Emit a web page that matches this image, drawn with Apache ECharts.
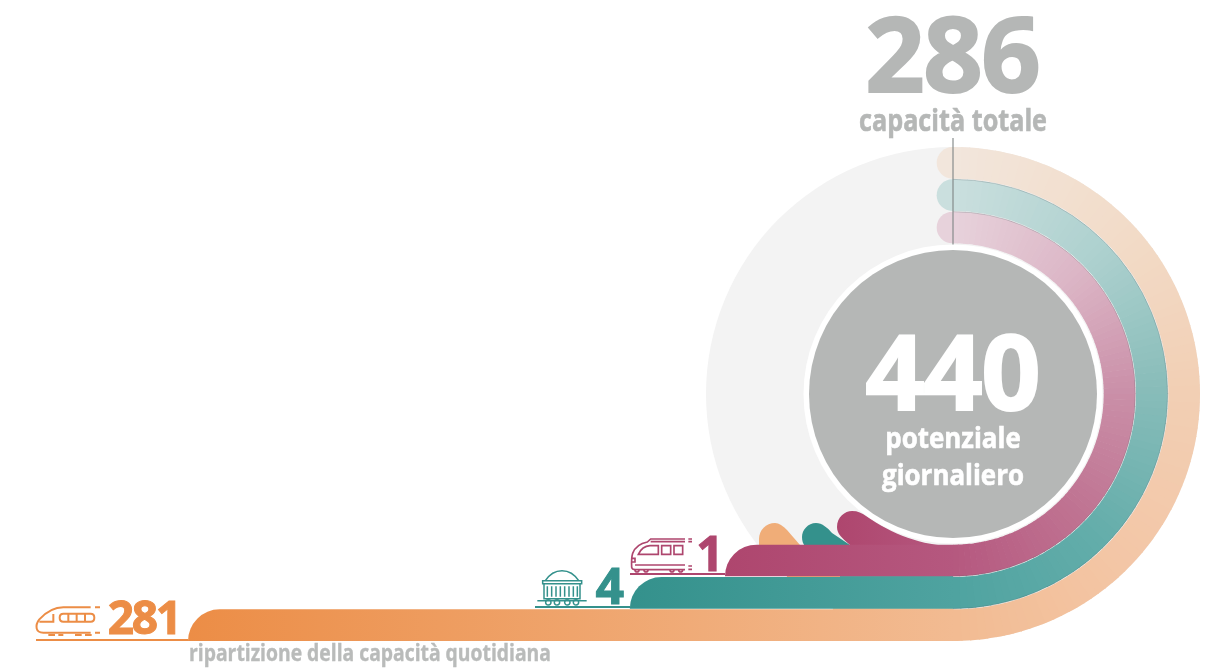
<!DOCTYPE html>
<html>
<head>
<meta charset="utf-8">
<style>html,body{margin:0;padding:0;background:#fff}#chart{width:1210px;height:668px}</style>
<script src="https://cdn.jsdelivr.net/npm/echarts@6/dist/echarts.min.js"></script>
</head>
<body>
<div id="chart"></div>
<script>
// Daily capacity split per service type
const services = ['Alta velocità', 'Merci', 'Regionale'];
const capacity = [281, 4, 1];
const totalCapacity = [286];
const dailyPotential = [440];
const captionTotal = 'capacità totale';
const captionPotential = ['potenziale', 'giornaliero'];
const captionSplit = 'ripartizione della capacità quotidiana';

// Colour ramps: [bar start, bar end / arc start, ... arc end at the top]
const rampOrange = ['#ec8d46', '#f2bb92', '#f3c6a6', '#f2cfb4', '#f2dcc9', '#f2e6dc'];
const rampTeal = ['#34918c', '#4fa3a0', '#63adaa', '#87bcb9', '#aed1cf', '#cadfde'];
const rampMagenta = ['#ae466e', '#b5587f', '#bf7291', '#ca8fa8', '#dcb6c6', '#e7d2db'];
const ramps = [rampOrange, rampTeal, rampMagenta];
const GREY = '#b5b7b6';
const FONT = '"Open Sans", "Noto Sans", sans-serif';

// The horizontal axis is logarithmic, so the tiny services stay readable next to 281
const LOG_SHIFT = 1.2;
const AXIS_MIN = 0.28;
const AXIS_MAX = 282.2;

const CY = 394;          // ring centre height
const RING_R = 149.5;    // white ring round the potential disc
const CORE_R = 144;      // potential disc

// Tails that peel off the bars around the lower left of the disc (relative to the ring's foot)
const tails = [
  'M-152 1 L-165 -14 C-169 -18 -173 -21 -177 -21 C-186 -21 -193 -14 -193 -5 L-193 1 Z',
  'M-102 1 L-120 -11 C-124 -16 -130 -21 -136 -21 C-144 -21 -150 -14 -150 -7 C-150 -3 -149 0 -147 2 Z',
  'M-102 1 C-110 -6 -115 -10 -115 -17 C-115 -27 -107 -33 -100 -33 C-94 -33 -90 -31 -86 -28 C-60 -10 -30 2 2 2 Z'
];

// Line icons drawn at three times their final size
const icons = [
  { ox: 0, oy: 500, color: '#ec8d46', w: 6, d: [
    'M272 322H190C160 322 135 340 118 358C110 368 108 375 110 385C112 394 122 398 130 398H272',
    'M285 322H300M285 398H300',
    'M118 365H160V342',
    'M190 341H272C280 341 283 346 283 353C283 360 280 365 272 365H190C183 365 179 360 179 353C179 346 183 341 190 341Z',
    'M205 341V365M230 341V365M255 341V365',
    'M145 405H165M175 405H190M225 405H245M255 405H275'
  ], fills: [[36, 639, 152]] },
  { ox: 520, oy: 490, color: '#34918c', w: 4.5, d: [
    'M76 272C90 250 108 242 126 242C144 242 162 250 176 272',
    'M68 272H185V281H68Z',
    'M72 281V326H180V281',
    'M82 289V320M95 289V320M108 289V320M121 289V320M134 289V320M147 289V320M160 289V320M172 289V320',
    'M52 332H200',
    'M85 329A8 8 0 1 1 84.9 329M111 329A8 8 0 1 1 110.9 329M142 329A8 8 0 1 1 141.9 329M168 329A8 8 0 1 1 167.9 329'
  ], fills: [[535, 606, 95]] },
  { ox: 520, oy: 490, color: '#ae466e', w: 5, d: [
    'M495 147H392L382 156C360 160 345 172 338 190C335 200 334 212 335 232C336 237 340 239 346 239H495',
    'M392 155H495M505 147H516M505 155H516M505 228H516M505 238H516',
    'M345 225H495',
    'M355 193C362 178 375 168 390 167H415V193Z',
    'M425 167H452V193H425ZM462 167H488V193H462Z',
    'M334 205H345V216H334',
    'M345 240A6 6 0 1 0 357 240M372 240A6 6 0 1 0 384 240M450 240A6 6 0 1 0 462 240M476 240A6 6 0 1 0 488 240'
  ], fills: [[630, 573, 95]] }
];

// Where each service's number sits, from the bar's start
const numberSpec = [
  { dx: -43, dy: -20, size: 46, gap: 24, bold: 1 },
  { dx: -20, dy: -19, size: 50, gap: 0, bold: 1 },
  { dx: -15, dy: -19, size: 48, gap: 0, bold: 1 }
];

function lerpRamp(ramp, t) {
  return echarts.color.lerp(t, ramp);
}

function text(str, x, y, size, fill, sx, bold) {
  return {
    type: 'text', x: x, y: y, scaleX: sx || 1,
    style: {
      text: str, fill: fill, fontSize: size, fontFamily: FONT, fontWeight: 700,
      align: 'center', verticalAlign: 'middle',
      stroke: bold ? fill : 'none', lineWidth: bold || 0
    }
  };
}

// Heavy numerals sit closer together than the font's own spacing
function numerals(str, x, y, size, fill, gap, bold) {
  const chars = String(str).split('');
  return chars.map(function (c, k) {
    return text(c, x + (k - (chars.length - 1) / 2) * gap, y, size, fill, 1, bold);
  });
}

function renderDisc(params, api) {
  const foot = api.coord([AXIS_MIN, 0]);
  const rowH = api.coord([AXIS_MIN, 0])[1] - api.coord([AXIS_MIN, 1])[1];
  return { type: 'circle', shape: { cx: foot[0], cy: CY, r: foot[1] + rowH / 2 - CY }, style: { fill: '#f3f3f3' } };
}

function renderService(params, api) {
  const i = params.dataIndex;
  const ramp = ramps[i];
  const base = api.coord([api.value(0), api.value(1)]);
  const centre = api.coord([AXIS_MIN, api.value(1)]);
  const rowH = Math.abs(api.coord([AXIS_MIN, 0])[1] - api.coord([AXIS_MIN, 1])[1]);
  const bottom = base[1] + rowH / 2;
  const top = bottom - rowH + 0.7;
  const cx = centre[0];
  const outer = bottom - CY;
  const inner = top - CY;
  const footY = api.coord([AXIS_MIN, 2])[1] - rowH / 2;
  const kids = [];

  // Rounded start cap at the top of the arc
  kids.push({ type: 'circle', shape: { cx: cx - 0.5, cy: CY - (outer + inner) / 2, r: (outer - inner) / 2 }, style: { fill: ramp[ramp.length - 1] } });

  // Tail around the disc
  const tailFill = i === 2
    ? { type: 'linear', x: 0, y: 0, x2: 1, y2: 0, colorStops: [{ offset: 0, color: ramp[0] }, { offset: 1, color: ramp[1] }] }
    : ramp[0].replace('#ec8d46', '#f0ad78');
  kids.push({ type: 'path', x: cx - 1, y: footY, shape: { pathData: tails[i] }, style: { fill: tailFill } });

  // Colour bleed into the hairline gaps near the bend
  if (i === 0) {
    kids.push({ type: 'rect', shape: { x: cx - 166, y: footY + 30, width: 60, height: 4 }, style: { fill: '#f0ad78' } });
    kids.push({ type: 'rect', shape: { x: cx - 120, y: top - 1, width: 120, height: 3 }, style: { fill: ramp[1] } });
  }
  if (i === 1) {
    kids.push({ type: 'rect', shape: { x: cx - 113, y: top - 1, width: 113, height: 3 }, style: { fill: ramp[1] } });
  }

  // Arc built from short sectors so the colour can travel along it
  const N = 90;
  const arcRamp = ramp.slice(1);
  for (let k = 0; k < N; k++) {
    const a0 = Math.PI / 2 - Math.PI * k / N;
    const a1 = Math.PI / 2 - Math.PI * (k + 1) / N - 0.004;
    kids.push({
      type: 'sector',
      shape: { cx: cx, cy: CY, r: outer, r0: inner, startAngle: a1, endAngle: a0, clockwise: true },
      style: { fill: lerpRamp(arcRamp, (k + 0.5) / N) }
    });
  }
  if (i > 0) {
    kids.push({
      type: 'arc', shape: { cx: cx, cy: CY, r: outer, startAngle: -Math.PI / 2, endAngle: Math.PI / 2, clockwise: true },
      style: { stroke: 'rgba(70,90,95,0.25)', lineWidth: 1, fill: 'none' }
    });
  }

  // Straight bar with a rounded upper left corner
  const h = bottom - top;
  const d = 'M' + base[0] + ' ' + bottom + 'A' + h + ' ' + h + ' 0 0 1 ' + (base[0] + h) + ' ' + top + 'H' + (cx + 0.5) + 'V' + bottom + 'Z';
  kids.push({
    type: 'path', shape: { pathData: d },
    style: { fill: { type: 'linear', x: 0, y: 0, x2: 1, y2: 0, colorStops: [{ offset: 0, color: ramp[0] }, { offset: 1, color: ramp[1] }] } }
  });

  // Icon, baseline and value
  const ic = icons[i];
  ic.fills.forEach(function (f) {
    kids.push({ type: 'rect', shape: { x: f[0], y: f[1], width: f[2], height: 2 }, style: { fill: ic.color } });
  });
  ic.d.forEach(function (p) {
    kids.push({
      type: 'path', x: ic.ox, y: ic.oy, scaleX: 1 / 3, scaleY: 1 / 3, shape: { pathData: p },
      style: { stroke: ic.color, lineWidth: ic.w, fill: 'none' }
    });
  });
  const spec = numberSpec[i];
  numerals(capacity[i], base[0] + spec.dx, bottom + spec.dy, spec.size, ic.color, spec.gap, spec.bold)
    .forEach(function (t) { kids.push(t); });

  return { type: 'group', children: kids };
}

function renderCore(params, api) {
  const cx = api.coord([AXIS_MIN, 0])[0];
  const kids = [
    { type: 'line', shape: { x1: cx, y1: 138, x2: cx, y2: 252 }, style: { stroke: 'rgba(130,135,135,0.75)', lineWidth: 1.5 } },
    { type: 'circle', shape: { cx: cx, cy: CY, r: RING_R }, style: { fill: '#fff' } },
    { type: 'circle', shape: { cx: cx, cy: CY, r: CORE_R }, style: { fill: GREY } },
    text(captionPotential[0], cx, 440, 28, '#fff', 0.925, 0.6),
    text(captionPotential[1], cx, 477, 28, '#fff', 0.925, 0.6),
    text(captionTotal, cx, 122, 30, GREY, 0.84, 0.6),
    text(captionSplit, 370, 654, 23, '#b9bbba', 0.84, 0.4)
  ];
  return {
    type: 'group',
    children: kids
      .concat(numerals(api.value(0), cx, 380, 104, '#fff', 58, 2))
      .concat(numerals(totalCapacity[0], cx, 62, 104, GREY, 58, 2))
  };
}

const chart = echarts.init(document.getElementById('chart'), null, { renderer: 'canvas' });
chart.setOption({
  animation: false,
  backgroundColor: '#fff',
  grid: { left: 188, right: 257, top: 544, bottom: 27, containLabel: false },
  xAxis: { type: 'log', inverse: true, min: AXIS_MIN, max: AXIS_MAX, show: false },
  yAxis: { type: 'category', data: services, show: false },
  series: [
    {
      type: 'custom', z: 1, clip: false, silent: true, coordinateSystem: 'cartesian2d',
      renderItem: renderDisc, encode: { x: 0, y: 1 },
      data: [[AXIS_MAX, 0]]
    },
    {
      type: 'custom', z: 2, clip: false, silent: true, coordinateSystem: 'cartesian2d',
      renderItem: renderService, encode: { x: 0, y: 1 },
      data: capacity.map(function (v, i) { return [v + LOG_SHIFT, i]; })
    },
    {
      type: 'custom', z: 3, clip: false, silent: true, coordinateSystem: 'cartesian2d',
      renderItem: renderCore, encode: { y: 1 },
      data: [[dailyPotential[0], 0]]
    }
  ]
});
</script>
</body>
</html>
